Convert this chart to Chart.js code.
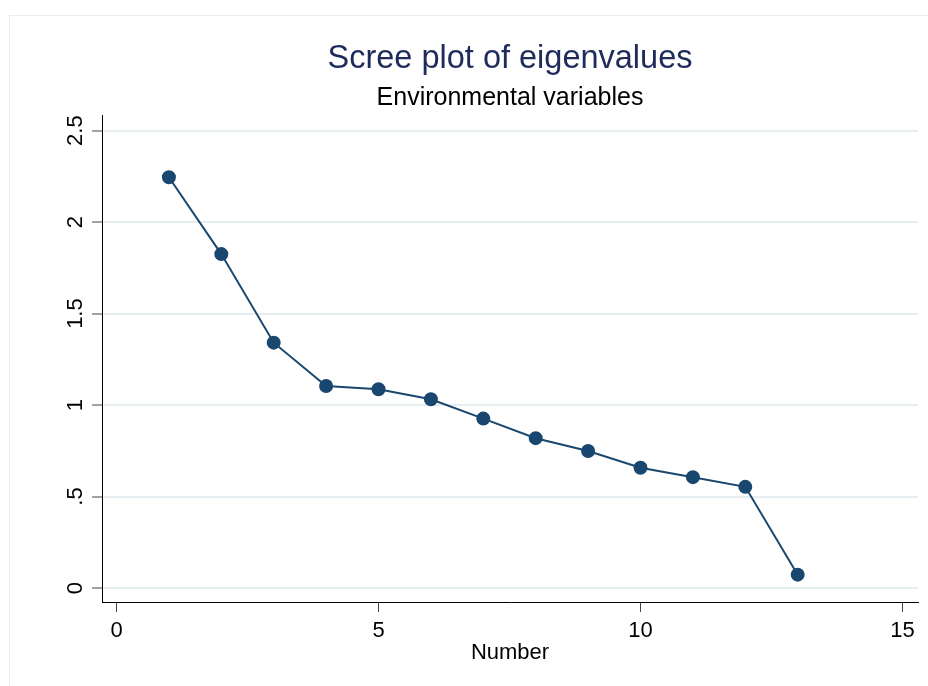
<!DOCTYPE html>
<html>
<head>
<meta charset="utf-8">
<script src="https://cdn.jsdelivr.net/npm/chart.js@4.4.0/dist/chart.umd.min.js"></script>
<style>
  body { margin: 0; background: #fff; }
  #wrap { width: 928px; height: 686px; }
</style>
</head>
<body>
<div id="wrap"><canvas id="screeChart" width="928" height="686"></canvas></div>
<script>
// component number and its eigenvalue
const components = [1, 2, 3, 4, 5, 6, 7, 8, 9, 10, 11, 12, 13];
const eigenvalues = [2.245, 1.825, 1.341, 1.104, 1.086, 1.032, 0.926, 0.819, 0.749, 0.657, 0.606, 0.553, 0.073];

const xTickValues = [0, 5, 10, 15];
const xTickLabels = ['0', '5', '10', '15'];
const yTickValues = [0, 0.5, 1, 1.5, 2, 2.5];
const yTickLabels = ['0', '.5', '1', '1.5', '2', '2.5'];

const navy = '#1a476f';

// faint outer frame like the Stata graph region
const framePlugin = {
  id: 'frame',
  beforeDraw(chart) {
    const ctx = chart.ctx;
    ctx.save();
    ctx.fillStyle = '#fff';
    ctx.fillRect(0, 0, chart.width, chart.height);
    ctx.strokeStyle = '#e9eef0';
    ctx.lineWidth = 1;
    ctx.strokeRect(9.5, 15.5, chart.width, chart.height);
    ctx.restore();
  }
};

// y tick labels are rotated, reading bottom to top
const yLabelPlugin = {
  id: 'yLabels',
  afterDraw(chart) {
    const ctx = chart.ctx;
    const y = chart.scales.y;
    ctx.save();
    ctx.font = '22px "Liberation Sans", Arial, sans-serif';
    ctx.fillStyle = '#000';
    ctx.textAlign = 'center';
    ctx.textBaseline = 'alphabetic';
    yTickValues.forEach((v, i) => {
      ctx.save();
      ctx.translate(82, y.getPixelForValue(v));
      ctx.rotate(-Math.PI / 2);
      ctx.fillText(yTickLabels[i], 0, 0);
      ctx.restore();
    });
    ctx.restore();
  }
};

const ctx = document.getElementById('screeChart').getContext('2d');
new Chart(ctx, {
  type: 'scatter',
  data: {
    datasets: [{
      label: 'Eigenvalues',
      data: components.map((c, i) => ({ x: c, y: eigenvalues[i] })),
      showLine: true,
      borderColor: navy,
      borderWidth: 2,
      backgroundColor: navy,
      pointBackgroundColor: navy,
      pointBorderColor: navy,
      pointRadius: 6,
      tension: 0
    }]
  },
  options: {
    responsive: false,
    animation: false,
    layout: { padding: { top: 0, left: 0, right: 10, bottom: 0 } },
    plugins: {
      legend: { display: false },
      tooltip: { enabled: false },
      title: {
        display: true,
        fullSize: false,
        text: 'Scree plot of eigenvalues',
        color: '#1e2b5b',
        font: { family: '"Liberation Sans", Arial, sans-serif', size: 32.5, weight: 'normal' },
        padding: { top: 39.5, bottom: 0 }
      },
      subtitle: {
        display: true,
        fullSize: false,
        text: 'Environmental variables',
        color: '#000',
        font: { family: '"Liberation Sans", Arial, sans-serif', size: 25, weight: 'normal' },
        padding: { top: 4.6, bottom: 2.5 }
      }
    },
    scales: {
      x: {
        type: 'linear',
        min: -0.277,
        max: 15.296,
        afterFit(s) { s.height = 84; },
        afterBuildTicks(s) { s.ticks = xTickValues.map(v => ({ value: v })); },
        ticks: {
          includeBounds: false,
          color: '#000',
          padding: 6,
          font: { family: '"Liberation Sans", Arial, sans-serif', size: 22 },
          callback: (v) => xTickLabels[xTickValues.indexOf(v)]
        },
        grid: {
          drawOnChartArea: false,
          drawTicks: true,
          tickLength: 10,
          tickColor: '#444',
          tickWidth: 1
        },
        border: { display: true, color: '#000', width: 1 },
        title: {
          display: true,
          text: 'Number',
          color: '#000',
          font: { family: '"Liberation Sans", Arial, sans-serif', size: 22 },
          padding: { top: 0, bottom: 20 }
        }
      },
      y: {
        type: 'linear',
        min: -0.0764,
        max: 2.582,
        afterFit(s) { s.width = 102; },
        afterBuildTicks(s) { s.ticks = yTickValues.map(v => ({ value: v })); },
        ticks: { display: false, includeBounds: false },
        grid: {
          color: '#e6eef1',
          lineWidth: 2,
          drawTicks: true,
          tickLength: 10,
          tickColor: '#444',
          tickWidth: 1
        },
        border: { display: true, color: '#000', width: 1 }
      }
    }
  },
  plugins: [framePlugin, yLabelPlugin]
});
</script>
</body>
</html>
